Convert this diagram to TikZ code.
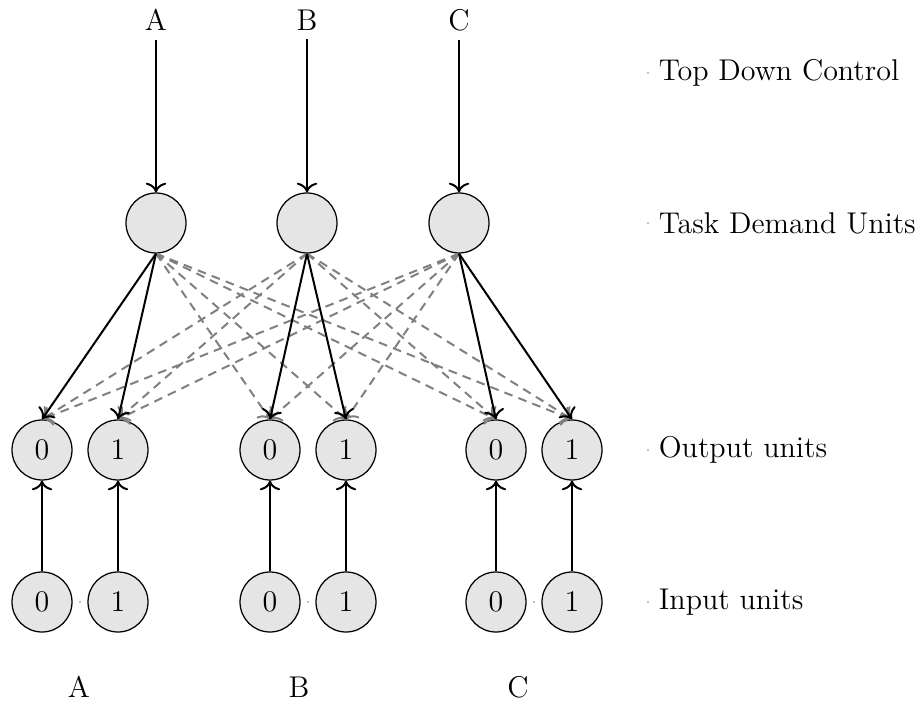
\documentclass[tikz,border=0pt]{standalone}
\usetikzlibrary{arrows.meta}
\begin{document}
\begin{tikzpicture}[x=0.4pt,y=-0.4pt,
  font=\fontsize{12}{14}\selectfont,
  unit/.style={circle,draw,fill=gray!20,minimum size=24pt,inner sep=0pt,line width=0.5pt},
  solidarr/.style={-{To[scale=1.15]},line width=0.8pt},
  dasharr/.style={-{To[scale=1.15]},dash pattern=on 3.5pt off 2.5pt,draw=gray,line width=0.8pt},
  tinydot/.style={circle,fill=gray,inner sep=0pt,minimum size=0.7pt},
  rowlabel/.style={anchor=west}]
\useasboundingbox (0,0) rectangle (918,704);

% top labels
\node (lA) at (156,20) {A};
\node (lB) at (307,20) {B};
\node (lC) at (459,20) {C};

% task demand units
\node[unit] (tA) at (156,223) {};
\node[unit] (tB) at (307,223) {};
\node[unit] (tC) at (459,223) {};

% output units
\node[unit] (oA0) at (42,450) {0};
\node[unit] (oA1) at (118,450) {1};
\node[unit] (oB0) at (270,450) {0};
\node[unit] (oB1) at (346,450) {1};
\node[unit] (oC0) at (496,450) {0};
\node[unit] (oC1) at (572,450) {1};

% input units
\node[unit] (iA0) at (42,602) {0};
\node[unit] (iA1) at (118,602) {1};
\node[unit] (iB0) at (270,602) {0};
\node[unit] (iB1) at (346,602) {1};
\node[unit] (iC0) at (496,602) {0};
\node[unit] (iC1) at (572,602) {1};

% dots between input pairs
\node[tinydot] (dA) at (80,602) {};
\node[tinydot] (dB) at (308,602) {};
\node[tinydot] (dC) at (534,602) {};

% bottom labels
\node (bA) at (79,687) {A};
\node (bB) at (299,687) {B};
\node (bC) at (518,687) {C};

% row labels
\node[tinydot] (r1) at (648,73) {};
\node[tinydot] (r2) at (648,223) {};
\node[tinydot] (r3) at (648,450) {};
\node[tinydot] (r4) at (648,602) {};
\node[rowlabel] (n1) at (650,73) {Top Down Control};
\node[rowlabel] (n2) at (650,223) {Task Demand Units};
\node[rowlabel] (n3) at (650,450) {Output units};
\node[rowlabel] (n4) at (650,602) {Input units};

% dashed cross connections
\foreach \t/\o in {tA/oB0,tA/oB1,tA/oC0,tA/oC1,
                   tB/oA0,tB/oA1,tB/oC0,tB/oC1,
                   tC/oA0,tC/oA1,tC/oB0,tC/oB1}
  \draw[dasharr] (\t.south) -- (\o.north);

% solid connections
\foreach \t/\o in {tA/oA0,tA/oA1,tB/oB0,tB/oB1,tC/oC0,tC/oC1}
  \draw[solidarr] (\t.south) -- (\o.north);

\draw[solidarr] (lA) -- (tA);
\draw[solidarr] (lB) -- (tB);
\draw[solidarr] (lC) -- (tC);

\foreach \p in {A0,A1,B0,B1,C0,C1}
  \draw[solidarr] (i\p) -- (o\p);
\end{tikzpicture}
\end{document}
